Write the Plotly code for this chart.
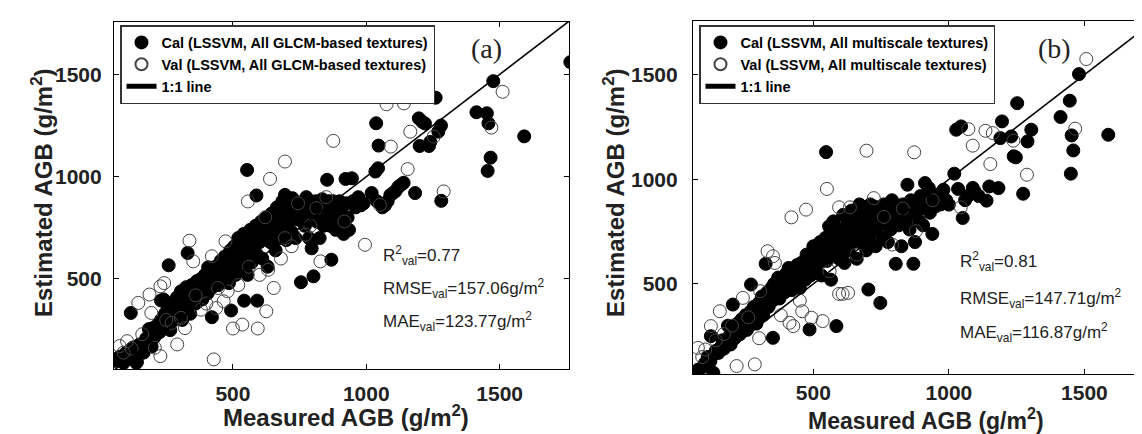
import plotly.graph_objects as go

W, H = 1142, 434

# ---------------- data ----------------
cal_a = [(60,100),(75,120),(90,90),(100,140),(110,130),(120,110),(125,165),(135,150),(140,95),(150,180),
         (160,170),(165,140),(175,210),(180,190),(190,230),(195,170),(117,334),(138,90),(200,260),(185,255),
         (205,215),(210,250),(220,280),(225,240),(230,300),(240,270),(245,330),(250,290),(255,360),(260,310),
         (265,250),(270,340),(275,380),(280,300),(285,350),(290,410),(295,330),(300,370),(305,440),(310,300),
         (315,400),(320,350),(325,460),(330,380),(335,420),(340,330),(345,470),(350,400),(259,567),(330,627),
         (230,395),(240,400),
         (355,440),(360,380),(365,490),(370,420),(375,460),(380,500),(385,400),(390,450),(395,520),(400,470),
         (405,430),(407,557),(410,500),(415,540),(420,460),(421,313),(425,510),(430,480),(435,560),(440,520),
         (445,470),(450,540),(455,590),(460,500),(465,560),(470,610),(475,520),(480,580),(485,480),(490,640),
         (493,346),(495,550),(500,600),
         (505,660),(510,520),(515,580),(520,700),(525,620),(530,560),(535,650),(540,720),(542,394),(545,600),
         (550,680),(553,1033),(555,520),(560,640),(565,740),(570,580),(575,700),(580,660),(585,760),(588,908),
         (590,620),(591,394),(595,720),(600,680),(605,780),(610,600),(615,740),(620,700),(625,800),(630,560),
         (635,760),(640,680),(645,820),(650,720),
         (655,780),(660,640),(665,850),(670,740),(675,700),(680,800),(685,880),(690,760),(695,911),(700,690),
         (705,830),(710,780),(715,860),(720,730),(723,895),(725,810),(730,880),(735,700),(740,840),(745,790),
         (750,870),(755,484),(760,820),(765,860),(770,760),(775,900),(780,820),(785,700),(790,860),(795,650),
         (800,830),(802,513),
         (810,880),(815,780),(820,860),(825,700),(830,840),(835,890),(840,760),(845,820),(850,870),(853,985),
         (855,800),(860,880),(865,760),(869,594),(870,840),(875,880),(880,800),(885,740),(890,860),(895,780),
         (900,880),(905,760),(910,820),(915,720),(922,989),(925,870),(930,800),(935,740),(946,992),(950,880),
         (960,850),(970,900),(980,860),(990,870),
         (1034,1025),(1044,1041),(1037,1261),(1046,1152),(1020,920),(1040,880),(1060,850),(1070,860),(1080,880),
         (1090,910),(1100,920),(1110,930),(1120,950),(1130,960),(1140,970),(1183,920),(1197,1285),(1210,1268),
         (1220,1260),(1200,1150),(1235,1150),(1240,1170),(1260,1386),(1270,1220),(1280,1250),(1281,882),
         (1413,1315),(1452,1310),(1458,1261),(1466,1093),(1455,1028),(1476,1467),(1592,1197),(1765,1560)]

val_a = [(75,172),(103,196),(90,140),(120,160),(145,383),(160,230),(187,424),(194,334),(207,164),(228,123),
         (228,464),(242,480),(250,300),(270,285),(291,180),(305,310),(320,260),(337,687),(351,586),(360,420),
         (380,350),(400,380),(421,611),(428,107),(437,358),(444,456),(465,391),(472,684),(480,440),(500,258),
         (520,470),(535,277),(556,879),(560,560),(593,258),(600,520),(621,802),(625,342),(632,545),(639,989),
         (653,456),(680,600),(695,1074),(695,700),(720,660),(744,870),(772,716),(790,760),(813,846),(828,586),
         (850,900),(876,1175),(918,781),(995,667),(1051,862),(1076,1354),(1092,1147),(1141,1358),(1155,1037),
         (1165,1220),(1253,1196),(1290,928),(1469,1240),(1511,1415)]

cal_b = [(60,72),(75,90),(90,100),(100,120),(110,150),(120,130),(122,250),(130,160),(131,75),(140,180),
         (150,170),(160,200),(165,230),(170,190),(180,220),(190,250),(195,210),(200,270),(203,401),(185,300),
         (210,240),(215,290),(220,310),(230,260),(235,330),(240,300),(250,350),(255,280),(260,320),(270,370),
         (270,497),(275,340),(280,390),(290,310),(295,360),(300,410),(305,380),(310,440),(315,350),(320,420),
         (324,596),(330,460),(335,390),(340,440),(345,480),(351,242),(350,420),
         (355,500),(360,450),(365,470),(370,530),(375,430),(380,490),(390,520),(395,460),(400,550),(405,490),
         (409,576),(410,520),(420,470),(425,560),(430,510),(440,590),(445,540),(450,480),(455,600),(460,560),
         (470,520),(475,640),(480,580),(486,282),(490,540),(495,620),(500,680),
         (505,560),(510,640),(520,600),(525,700),(530,540),(540,660),(545,720),(547,1130),(550,610),(558,775),
         (560,680),(565,520),(570,740),(574,799),(580,650),(585,298),(590,700),(595,620),(600,760),(605,680),
         (610,830),(615,600),(620,720),(625,790),(630,660),(640,850),(645,740),(650,700),
         (655,800),(660,620),(665,760),(670,880),(675,700),(680,820),(685,740),(690,860),(695,660),(700,790),
         (703,473),(705,720),(710,880),(715,820),(720,760),(725,870),(730,680),(735,840),(740,780),(747,409),
         (750,860),(755,720),(760,880),(765,800),(770,840),(775,700),(780,860),(785,760),(790,900),(795,820),
         (804,596),
         (810,870),(815,780),(820,840),(825,680),(830,880),(840,800),(847,974),(850,860),(855,760),(860,900),
         (869,596),(870,840),(875,700),(880,880),(890,800),(895,920),(900,860),(905,780),(912,982),(915,900),
         (926,958),(930,840),(939,739),(945,900),(950,870),(960,920),(970,880),(980,950),(990,900),(1000,879),
         (1020,1027),(1027,1237),(1034,954),(1045,1253),(1051,815),(1060,900),(1070,920),(1088,959),(1095,943),
         (1110,920),(1139,898),(1149,966),(1183,958),(1190,1197),(1196,1277),(1230,1205),(1239,1110),(1247,1105),
         (1252,1364),(1274,931),(1290,1181),(1304,1237),
         (1412,1298),(1446,1376),(1450,1027),(1453,1210),(1459,1138),(1480,1503),(1588,1213)]

val_b = [(74,194),(101,186),(90,150),(122,298),(140,230),(155,369),(170,260),(200,300),(217,107),(240,433),
         (260,340),(284,115),(300,240),(304,465),(331,656),(351,632),(358,600),(380,350),(412,314),(419,818),
         (426,298),(450,420),(459,369),(473,855),(493,338),(534,322),(550,954),(560,560),(595,866),(595,452),
         (608,452),(628,457),(635,866),(660,640),(696,1137),(723,910),(760,820),(791,688),(830,860),(872,1129),
         (878,752),(940,900),(1044,866),(1072,1240),(1088,1161),(1135,1232),(1153,1073),(1162,1221),(1238,1185),
         (1288,1022),(1466,1242),(1507,1575)]

one_to_one = [0, 2000]
tick_vals = [500, 1000, 1500]
range_a_x, range_a_y = [54, 1760], [60, 1756]
range_b_x, range_b_y = [56, 1742], [69, 1757]

names_a = ["Cal (LSSVM, All GLCM-based textures)", "Val (LSSVM, All GLCM-based textures)", "1:1 line"]
names_b = ["Cal (LSSVM, All multiscale textures)", "Val (LSSVM, All multiscale textures)", "1:1 line"]
stats_a = ["R<sup>2</sup><sub>val</sub>=0.77", "RMSE<sub>val</sub>=157.06g/m<sup>2</sup>", "MAE<sub>val</sub>=123.77g/m<sup>2</sup>"]
stats_b = ["R<sup>2</sup><sub>val</sub>=0.81", "RMSE<sub>val</sub>=147.71g/m<sup>2</sup>", "MAE<sub>val</sub>=116.87g/m<sup>2</sup>"]

# ---------------- figure ----------------
SANS = "Liberation Sans, Arial, sans-serif"
SERIF = "Liberation Serif, Times New Roman, serif"

def px(x):
    return x / W

def py(y):
    return 1 - y / H

fig = go.Figure()

def add_panel(cal, val, names, xa, ya, leg):
    fig.add_trace(go.Scatter(x=[p[0] for p in cal], y=[p[1] for p in cal], mode="markers",
                             name=names[0], xaxis=xa, yaxis=ya, legend=leg,
                             marker=dict(symbol="circle", size=13, color="black",
                                         line=dict(color="black", width=1))))
    fig.add_trace(go.Scatter(x=[p[0] for p in val], y=[p[1] for p in val], mode="markers",
                             name=names[1], xaxis=xa, yaxis=ya, legend=leg,
                             marker=dict(symbol="circle-open", size=13, color="#444",
                                         line=dict(width=1))))
    fig.add_trace(go.Scatter(x=one_to_one, y=one_to_one, mode="lines", name=names[2],
                             xaxis=xa, yaxis=ya, legend=leg,
                             line=dict(color="black", width=1.5)))

add_panel(cal_a, val_a, names_a, "x", "y", "legend")
add_panel(cal_b, val_b, names_b, "x2", "y2", "legend2")

axis_common = dict(showline=True, linecolor="black", linewidth=1.2, mirror="ticks",
                   ticks="inside", ticklen=5, tickcolor="black", showgrid=False, zeroline=False,
                   tickvals=tick_vals, tickfont=dict(family=SANS, size=21, color="#222", weight="bold"))

legend_common = dict(xanchor="left", yanchor="top", bgcolor="white", bordercolor="#333",
                     borderwidth=1.5, itemwidth=30, tracegroupgap=0, itemsizing="constant",
                     font=dict(family=SANS, size=14.5, color="black", weight="bold"))

fig.update_layout(
    width=W, height=H, margin=dict(l=0, r=0, t=0, b=0),
    plot_bgcolor="white", paper_bgcolor="white",
    xaxis=dict(domain=[px(106), px(561)], range=range_a_x, anchor="y", ticklabelstandoff=6, **axis_common),
    yaxis=dict(domain=[py(361), py(14)], range=range_a_y, anchor="x", ticklabelstandoff=7, **axis_common),
    xaxis2=dict(domain=[px(685), 1.0], range=range_b_x, anchor="y2", ticklabelstandoff=0, **axis_common),
    yaxis2=dict(domain=[py(366), py(13)], range=range_b_y, anchor="x2", ticklabelstandoff=10, **axis_common),
    legend=dict(x=px(112), y=py(17), **legend_common),
    legend2=dict(x=px(691), y=py(17), **legend_common),
)

ann = []
def title(text, x, y, angle=0, size=24):
    ann.append(dict(text="<b>" + text + "</b>", x=px(x), y=py(y), xref="paper", yref="paper",
                    showarrow=False, textangle=angle, xanchor="center", yanchor="middle",
                    font=dict(family=SANS, size=size, color="#222")))

title("Measured AGB (g/m<sup>2</sup>)", 338, 408)
title("Measured AGB (g/m<sup>2</sup>)", 918, 411, size=23)
title("Estimated AGB (g/m<sup>2</sup>)", 34, 185, -90)
title("Estimated AGB (g/m<sup>2</sup>)", 606, 185, -90)

for txt, yy in zip(stats_a, [247, 280, 313]):
    ann.append(dict(text=txt, x=px(373), y=py(yy), xref="paper", yref="paper", showarrow=False,
                    xanchor="left", yanchor="middle", font=dict(family=SANS, size=17, color="#222")))
for txt, yy in zip(stats_b, [253, 290, 324]):
    ann.append(dict(text=txt, x=px(950), y=py(yy), xref="paper", yref="paper", showarrow=False,
                    xanchor="left", yanchor="middle", font=dict(family=SANS, size=17, color="#222")))

for txt, xx in [("(a)", 478), ("(b)", 1046)]:
    ann.append(dict(text=txt, x=px(xx), y=py(40), xref="paper", yref="paper", showarrow=False,
                    xanchor="center", yanchor="middle", font=dict(family=SERIF, size=28, color="#222")))

fig.update_layout(annotations=ann)
fig.write_html("out.html")
